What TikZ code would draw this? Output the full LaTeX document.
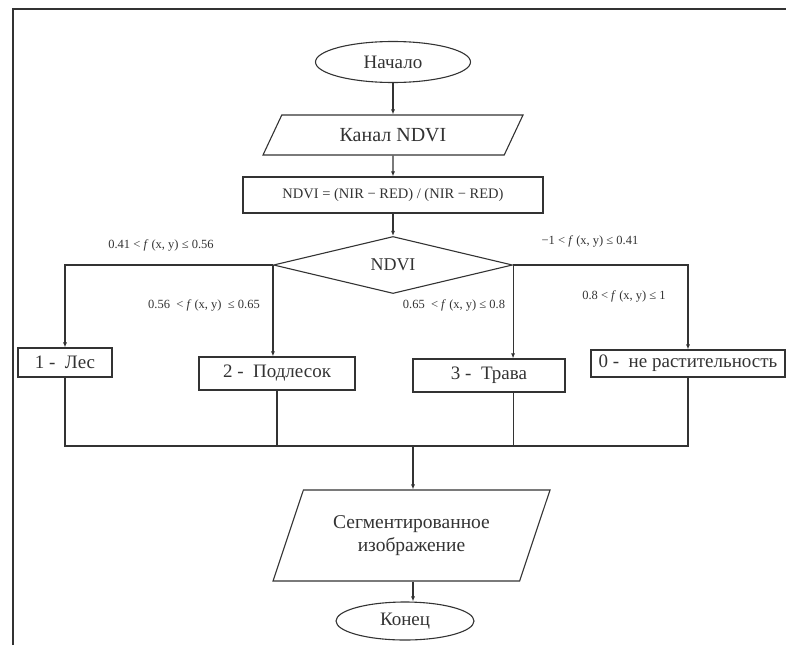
\documentclass[tikz,border=0pt]{standalone}
\usepackage{fontspec}
\setmainfont{Liberation Serif}
\usetikzlibrary{shapes.geometric,arrows.meta}

\begin{document}
\begin{tikzpicture}[x=1pt, y=-1pt, color=black!80, line width=1.1pt,
    flow/.style={-{Latex[length=5pt,width=4pt]}},
    term/.style={ellipse, draw, inner sep=0pt, font=\fontsize{19}{21}\selectfont},
    io/.style={trapezium, trapezium stretches body, draw, inner sep=0pt},
    proc/.style={rectangle, draw, inner sep=0pt},
    cls/.style={rectangle, draw, inner sep=0pt, font=\fontsize{19}{21}\selectfont},
    cond/.style={inner sep=0pt, font=\fontsize{12.5}{14}\selectfont}]
    \useasboundingbox (0,0) rectangle (786,645);

    % page frame
    \draw[line width=1.4pt] (13,645) -- (13,9) -- (786,9);

    \node[term, minimum width=155pt, minimum height=41pt] (start) at (393,62) {Начало};
    \node[io, trapezium left angle=35.5, trapezium right angle=144.5,
          minimum width=260pt, minimum height=40pt, font=\fontsize{20}{22}\selectfont] (chan) at (393,135) {Канал NDVI};
    \node[proc, minimum width=300pt, minimum height=36pt, font=\fontsize{14.5}{16}\selectfont] (calc) at (393,195)
        {NDVI = (NIR − RED) / (NIR − RED)};
    \node[diamond, draw, inner sep=0pt, minimum width=239pt, minimum height=46pt,
          font=\fontsize{18}{20}\selectfont] (dec) at (393,265) {NDVI};

    % classes
    \node[cls, minimum width=94pt, minimum height=29pt] (forest) at (65,362.5) {1 -~ Лес};
    \node[cls, minimum width=156pt, minimum height=33pt] (under) at (277,373.5) {2 -~ Подлесок};
    \node[cls, minimum width=152pt, minimum height=33pt] (grass) at (489,375.5) {3 -~ Трава};
    \node[cls, minimum width=194pt, minimum height=27pt] (none) at (688,363.5) {0 -~ не растительность};

    % thresholds
    \node[cond] (c1) at (161,245) {0.41 < \textit{f} (x, y) ≤ 0.56};
    \node[cond] (c2) at (204,305) {0.56 ~< \textit{f} (x, y) ~≤ 0.65};
    \node[cond] (c3) at (454,305) {0.65 ~< \textit{f} (x, y) ≤ 0.8};
    \node[cond] (c0) at (590,241) {−1 < \textit{f} (x, y) ≤ 0.41};
    \node[cond] (c4) at (624,296) {0.8 < \textit{f} (x, y) ≤ 1};

    \coordinate (join) at (413,446);

    \node[io, trapezium left angle=52.8, trapezium right angle=127.2, align=center,
          minimum width=277pt, minimum height=91pt, font=\fontsize{19.5}{23}\selectfont] (seg) at (411.5,535.5)
        {Сегментированное\\изображение};
    \node[term, minimum width=138pt, minimum height=38pt] (stop) at (405,621) {Конец};

    \draw[flow] (start) -- (chan);
    \draw[flow] (chan) -- (calc);
    \draw[flow] (calc) -- (dec);
    \draw[flow] (dec.west) -| (forest.north);
    \draw[flow] (dec.west) -- (dec.west |- under.north);
    \draw[flow] (dec.east) -- (dec.east |- grass.north);
    \draw[flow] (dec.east) -| (none.north);

    \draw (forest.south) |- (join) -| (none.south);
    \draw (under.south) -- (under.south |- join);
    \draw (dec.east |- grass.south) -- (dec.east |- join);
    \draw[flow] (join) -- (join |- seg.north);
    \draw[flow] (join |- seg.south) -- (join |- stop.north);
\end{tikzpicture}
\end{document}
